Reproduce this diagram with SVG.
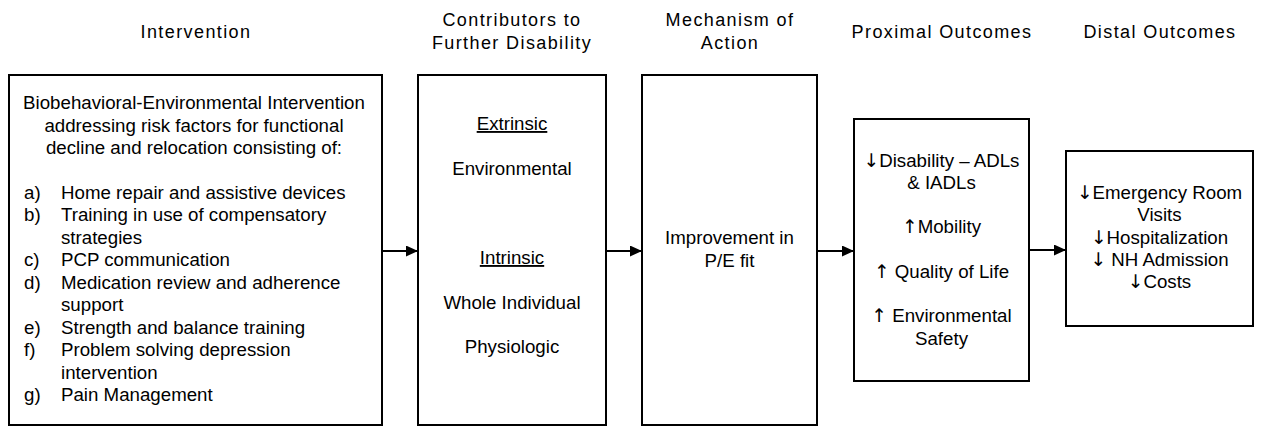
<svg xmlns="http://www.w3.org/2000/svg" width="1264" height="426" viewBox="0 0 1264 426">
<defs>
<style>
.hdr{font-family:"Liberation Sans",Arial,sans-serif;font-size:18px;letter-spacing:1.4px;fill:#000;text-anchor:middle}
.t{font-family:"Liberation Sans",Arial,sans-serif;font-size:18.7px;fill:#000}
.c{text-anchor:middle}
.ar{font-family:"DejaVu Sans",sans-serif;fill:#000}
.box{fill:#fff;stroke:#000;stroke-width:2}
.conn{stroke:#000;stroke-width:2;fill:none;marker-end:url(#ah)}
</style>
<marker id="ah" viewBox="0 0 12 11" refX="12" refY="5.5" markerWidth="12" markerHeight="11" markerUnits="userSpaceOnUse" orient="auto">
<path d="M0,0 L12,5.5 L0,11 Z" fill="#000"/>
</marker>
</defs>
<rect width="1264" height="426" fill="#fff"/>
<g id="headers">
<text class="hdr" x="196" y="38">Intervention</text>
<text class="hdr" x="512" y="26">Contributors to</text>
<text class="hdr" x="512" y="49">Further Disability</text>
<text class="hdr" x="730" y="26">Mechanism of</text>
<text class="hdr" x="730" y="49">Action</text>
<text class="hdr" x="942" y="38">Proximal Outcomes</text>
<text class="hdr" x="1160" y="38">Distal Outcomes</text>
</g>
<g id="connectors">
<line class="conn" x1="383" y1="251" x2="418" y2="251"/>
<line class="conn" x1="607" y1="251" x2="642" y2="251"/>
<line class="conn" x1="818" y1="251" x2="854" y2="251"/>
<line class="conn" x1="1030" y1="250" x2="1066" y2="250"/>
</g>
<g id="intervention">
<rect class="box" x="9" y="75" width="373" height="350"/>
<text class="t c" x="194" y="109">Biobehavioral-Environmental Intervention</text>
<text class="t c" x="194" y="131.5">addressing risk factors for functional</text>
<text class="t c" x="194" y="153.5">decline and relocation consisting of:</text>
<g class="t">
<text x="24" y="198.5">a)</text><text x="61" y="198.5">Home repair and assistive devices</text>
<text x="24" y="221">b)</text><text x="61" y="221">Training in use of compensatory</text>
<text x="61" y="243.5">strategies</text>
<text x="24" y="266">c)</text><text x="61" y="266">PCP communication</text>
<text x="24" y="288.5">d)</text><text x="61" y="288.5">Medication review and adherence</text>
<text x="61" y="311">support</text>
<text x="24" y="333.5">e)</text><text x="61" y="333.5">Strength and balance training</text>
<text x="24" y="356">f)</text><text x="61" y="356">Problem solving depression</text>
<text x="61" y="378.5">intervention</text>
<text x="24" y="401">g)</text><text x="61" y="401">Pain Management</text>
</g>
</g>
<g id="contributors">
<rect class="box" x="418" y="75" width="188" height="350"/>
<text class="t c" x="512" y="130" text-decoration="underline">Extrinsic</text>
<text class="t c" x="512" y="175">Environmental</text>
<text class="t c" x="512" y="264" text-decoration="underline">Intrinsic</text>
<text class="t c" x="512" y="309">Whole Individual</text>
<text class="t c" x="512" y="353">Physiologic</text>
</g>
<g id="mechanism">
<rect class="box" x="642" y="75" width="175" height="350"/>
<text class="t c" x="729.5" y="244">Improvement in</text>
<text class="t c" x="729.5" y="267">P/E fit</text>
</g>
<g id="proximal">
<rect class="box" x="854" y="119" width="175" height="262"/>
<text class="t c" x="941.5" y="166.5"><tspan class="ar">↓</tspan>Disability – ADLs</text>
<text class="t c" x="941.5" y="188.5">&amp; IADLs</text>
<text class="t c" x="941.5" y="233"><tspan class="ar">↑</tspan>Mobility</text>
<text class="t c" x="941.5" y="277.5"><tspan class="ar">↑</tspan> Quality of Life</text>
<text class="t c" x="941.5" y="322"><tspan class="ar">↑</tspan> Environmental</text>
<text class="t c" x="941.5" y="344.5">Safety</text>
</g>
<g id="distal">
<rect class="box" x="1066" y="151" width="187" height="175"/>
<text class="t c" x="1159.5" y="199"><tspan class="ar">↓</tspan>Emergency Room</text>
<text class="t c" x="1159.5" y="221">Visits</text>
<text class="t c" x="1159.5" y="243.5"><tspan class="ar">↓</tspan>Hospitalization</text>
<text class="t c" x="1159.5" y="265.5"><tspan class="ar">↓</tspan> NH Admission</text>
<text class="t c" x="1159.5" y="287.5"><tspan class="ar">↓</tspan>Costs</text>
</g>
</svg>
